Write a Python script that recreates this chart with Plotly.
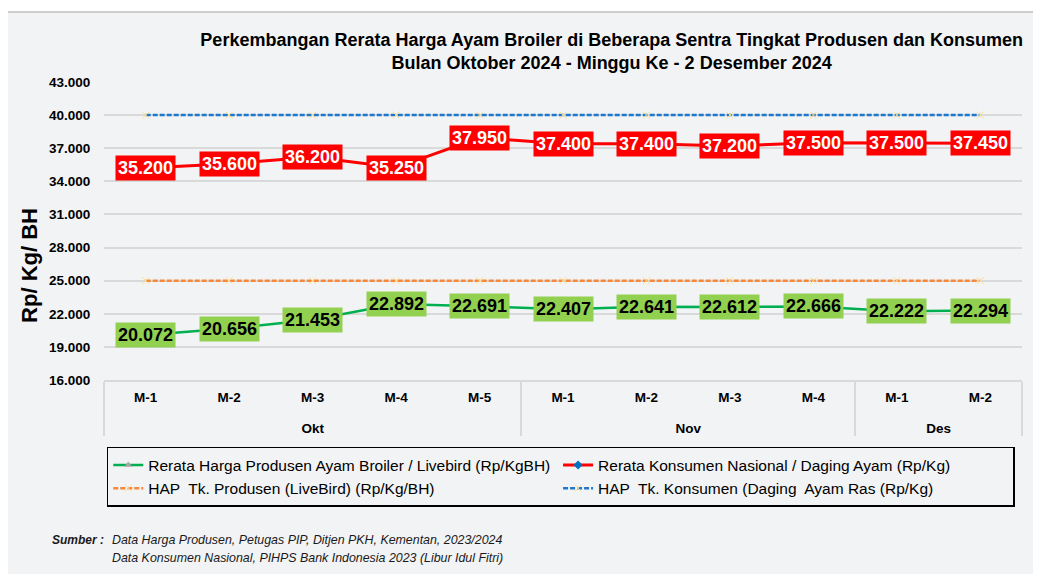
import plotly.graph_objects as go

months = ["Okt"] * 5 + ["Nov"] * 4 + ["Des"] * 2
weeks = ["M-1", "M-2", "M-3", "M-4", "M-5", "M-1", "M-2", "M-3", "M-4", "M-1", "M-2"]
produsen = [20072, 20656, 21453, 22892, 22691, 22407, 22641, 22612, 22666, 22222, 22294]
konsumen = [35200, 35600, 36200, 35250, 37950, 37400, 37400, 37200, 37500, 37500, 37450]
hap_produsen = [25000] * 11
hap_konsumen = [40000] * 11
y_ticks = [16000, 19000, 22000, 25000, 28000, 31000, 34000, 37000, 40000, 43000]

names = [
    "Rerata Harga Produsen Ayam Broiler / Livebird (Rp/KgBH)",
    "Rerata Konsumen Nasional / Daging Ayam (Rp/Kg)",
    "HAP  Tk. Produsen (LiveBird) (Rp/Kg/BH)",
    "HAP  Tk. Konsumen (Daging  Ayam Ras (Rp/Kg)",
]

FONT = "Liberation Sans, Arial, sans-serif"
# group labels get an empty first line so they sit lower, as in the reference
x = [["<br>" + m for m in months], weeks]

fig = go.Figure()
fig.add_trace(go.Scatter(x=x, y=produsen, name=names[0], mode="lines+markers",
                         line=dict(color="#00b050", width=2.5),
                         marker=dict(symbol="triangle-up", size=7, color="#a6a6a6")))
fig.add_trace(go.Scatter(x=x, y=konsumen, name=names[1], mode="lines+markers",
                         line=dict(color="#ff0000", width=3),
                         marker=dict(symbol="diamond", size=7, color="#0070c0")))
fig.add_trace(go.Scatter(x=x, y=hap_produsen, name=names[2], mode="lines+markers",
                         line=dict(color="#f5883a", width=2.5, dash="5px,2px"),
                         marker=dict(symbol="x-thin", size=7, line=dict(color="#ffe08a", width=1))))
fig.add_trace(go.Scatter(x=x, y=hap_konsumen, name=names[3], mode="lines+markers",
                         line=dict(color="#1f78cc", width=2.5, dash="5px,2px"),
                         marker=dict(symbol="x-thin", size=7, line=dict(color="#ffe08a", width=1))))

def fmt(v):
    return f"{v:,}".replace(",", ".")

ann = []
for i, v in enumerate(produsen):
    ann.append(dict(x=i, y=v, xref="x", yref="y", text=fmt(v), showarrow=False,
                    bgcolor="#92d050", borderpad=2,
                    font=dict(family=FONT, size=18, color="black", weight="bold")))
for i, v in enumerate(konsumen):
    ann.append(dict(x=i, y=v, xref="x", yref="y", text=fmt(v), showarrow=False,
                    bgcolor="#ff0000", borderpad=2,
                    font=dict(family=FONT, size=18, color="white", weight="bold")))

# y-axis title
ann.append(dict(x=-0.0806, y=0.383, xref="paper", yref="paper", text="Rp/ Kg/ BH",
                textangle=-90, showarrow=False, xanchor="center", yanchor="middle",
                font=dict(family=FONT, size=22, color="black", weight="bold")))
# source
ann.append(dict(x=-0.0588, y=-0.537, xref="paper", yref="paper", text="Sumber :",
                xanchor="left", yanchor="middle", showarrow=False,
                font=dict(family=FONT, size=12, color="#1a1a1a", style="italic", weight="bold")))
ann.append(dict(x=0.0065, y=-0.537, xref="paper", yref="paper",
                text="Data Harga Produsen, Petugas PIP, Ditjen PKH, Kementan, 2023/2024",
                xanchor="left", yanchor="middle", showarrow=False,
                font=dict(family=FONT, size=12.4, color="#1a1a1a", style="italic")))
ann.append(dict(x=0.0065, y=-0.597, xref="paper", yref="paper",
                text="Data Konsumen Nasional, PIHPS Bank Indonesia 2023 (Libur Idul Fitri)",
                xanchor="left", yanchor="middle", showarrow=False,
                font=dict(family=FONT, size=12.4, color="#1a1a1a", style="italic")))

fig.update_layout(
    width=1033, height=566,
    margin=dict(l=96, r=19, t=74, b=194),
    paper_bgcolor="white",
    plot_bgcolor="rgba(0,0,0,0)",
    separators=",.",
    font=dict(family=FONT, color="black"),
    title=dict(text="Perkembangan Rerata Harga Ayam Broiler di Beberapa Sentra Tingkat Produsen dan Konsumen<br>Bulan Oktober 2024 - Minggu Ke - 2 Desember 2024",
               x=0.553, xref="paper", xanchor="center", y=0.933, yref="container", yanchor="top",
               font=dict(family=FONT, size=18, color="black", weight="bold")),
    showlegend=True,
    legend=dict(orientation="h", x=0.003, xanchor="left", y=-0.2248, yanchor="top",
                bordercolor="black", borderwidth=1.5, bgcolor="rgba(0,0,0,0)",
                entrywidth=0.49, entrywidthmode="fraction",
                font=dict(family=FONT, size=15.5, color="black"), itemwidth=30),
    annotations=ann,
    shapes=[dict(type="rect", xref="paper", yref="paper", x0=-0.1057, x1=1.03, y0=-0.7, y1=1.235,
                 fillcolor="#f2f3f5", line=dict(color="#bfbfbf", width=1.5), layer="below")],
)
fig.update_yaxes(range=[16000, 43000], tickvals=y_ticks, tickformat=",.0f",
                 showgrid=True, gridcolor="#d9d9d9", gridwidth=1.5,
                 zeroline=False, showline=False, ticks="outside", ticklen=10, tickcolor="rgba(0,0,0,0)",
                 tickfont=dict(family=FONT, size=13.5, color="black", weight="bold"))
fig.update_xaxes(type="multicategory", range=[-0.5, 10.5], showgrid=False,
                 showline=True, linecolor="#d9d9d9", linewidth=1.5,
                 showdividers=True, dividercolor="#d9d9d9", dividerwidth=1.5,
                 ticks="", ticklabelstandoff=4,
                 tickfont=dict(family=FONT, size=13.5, color="black", weight="bold"))

fig.write_html("out.html")
